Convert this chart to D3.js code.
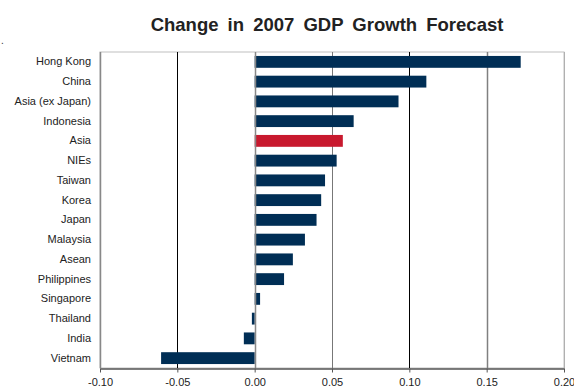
<!DOCTYPE html>
<html>
<head>
<meta charset="utf-8">
<script src="https://cdn.jsdelivr.net/npm/d3@7"></script>
<style>
  html, body { margin: 0; padding: 0; background: #fff; }
  svg { display: block; font-family: "Liberation Sans", Arial, sans-serif; }
</style>
</head>
<body>
<svg id="chart" width="574" height="390"></svg>
<script>
// Revisions to 2007 GDP growth forecasts, by economy
const categories = ["Hong Kong", "China", "Asia (ex Japan)", "Indonesia", "Asia", "NIEs",
  "Taiwan", "Korea", "Japan", "Malaysia", "Asean", "Philippines", "Singapore",
  "Thailand", "India", "Vietnam"];
const changes = [0.172, 0.111, 0.093, 0.064, 0.057, 0.053, 0.0455, 0.043, 0.040,
  0.0325, 0.0247, 0.019, 0.0035, -0.0018, -0.007, -0.0605];
const highlighted = ["Asia"];
const xTicks = [-0.10, -0.05, 0.00, 0.05, 0.10, 0.15, 0.20];

const svg = d3.select("#chart");
const margin = { top: 52, right: 10, bottom: 22, left: 100 };
const plotW = 564 - margin.left;
const plotH = 368 - margin.top;

const x = d3.scaleLinear().domain([-0.10, 0.20]).range([margin.left, margin.left + plotW]);
const y = d3.scaleBand().domain(categories).range([margin.top, margin.top + plotH]).paddingInner(0.4).paddingOuter(0.2);

// Title
svg.append("text")
  .attr("x", 327).attr("y", 31)
  .attr("text-anchor", "middle")
  .attr("font-size", 18.5).attr("font-weight", "bold")
  .attr("fill", "#222")
  .attr("word-spacing", 4)
  .text("Change in 2007 GDP Growth Forecast");

svg.append("text").attr("x", 1).attr("y", 44).attr("font-size", 10).attr("fill", "#333").text(".");

// Plot frame (top and right)
svg.append("rect")
  .attr("x", margin.left).attr("y", margin.top)
  .attr("width", plotW).attr("height", plotH)
  .attr("fill", "none").attr("stroke", "#c0c0c0").attr("stroke-width", 1);

// Vertical gridlines
const gridStyle = {
  "-0.05": { c: "#000", w: 1 },
  "0.05": { c: "#777", w: 1 },
  "0.1": { c: "#000", w: 1 },
  "0.15": { c: "#808080", w: 1.5 },
  "0.2": { c: "#b0b0b0", w: 1 }
};
const styleOf = d => gridStyle[String(+d.toFixed(2))];
svg.append("g").selectAll("line")
  .data(xTicks.filter(styleOf))
  .join("line")
  .attr("x1", d => Math.round(x(d)) + 0.5).attr("x2", d => Math.round(x(d)) + 0.5)
  .attr("y1", margin.top).attr("y2", margin.top + plotH)
  .attr("stroke", d => styleOf(d).c)
  .attr("stroke-width", d => styleOf(d).w);

// Bars
svg.append("g").selectAll("rect")
  .data(categories.map((c, i) => ({ c, v: changes[i] })))
  .join("rect")
  .attr("x", d => x(Math.min(0, d.v)))
  .attr("y", d => y(d.c))
  .attr("width", d => Math.abs(x(d.v) - x(0)))
  .attr("height", y.bandwidth())
  .attr("fill", d => highlighted.includes(d.c) ? "#c8192e" : "#002e55");

// Zero line
svg.append("line")
  .attr("x1", Math.round(x(0)) + 0.5).attr("x2", Math.round(x(0)) + 0.5)
  .attr("y1", margin.top).attr("y2", margin.top + plotH)
  .attr("stroke", "#888").attr("stroke-width", 1.5);

// Left axis line
svg.append("line")
  .attr("x1", margin.left + 0.5).attr("x2", margin.left + 0.5)
  .attr("y1", margin.top).attr("y2", margin.top + plotH)
  .attr("stroke", "#888").attr("stroke-width", 1.5);

// Category labels
const yAxis = svg.append("g")
  .attr("transform", `translate(${margin.left},0)`)
  .call(d3.axisLeft(y).tickSize(0).tickPadding(9));
yAxis.select(".domain").remove();
yAxis.selectAll("text").attr("font-size", 11).attr("fill", "#222")
  .attr("font-family", "Liberation Sans, Arial, sans-serif");

// Bottom value axis
const xAxis = svg.append("g")
  .attr("transform", `translate(0,${margin.top + plotH + 0.5})`)
  .call(d3.axisBottom(x).tickValues(xTicks).tickFormat(d => d.toFixed(2)).tickSize(4).tickSizeOuter(0).tickPadding(6));
xAxis.select(".domain").attr("stroke", "#555").attr("stroke-width", 1.5);
xAxis.selectAll(".tick line").attr("stroke", "#555");
xAxis.selectAll("text").attr("font-size", 11).attr("fill", "#222")
  .attr("font-family", "Liberation Sans, Arial, sans-serif");
</script>
</body>
</html>
